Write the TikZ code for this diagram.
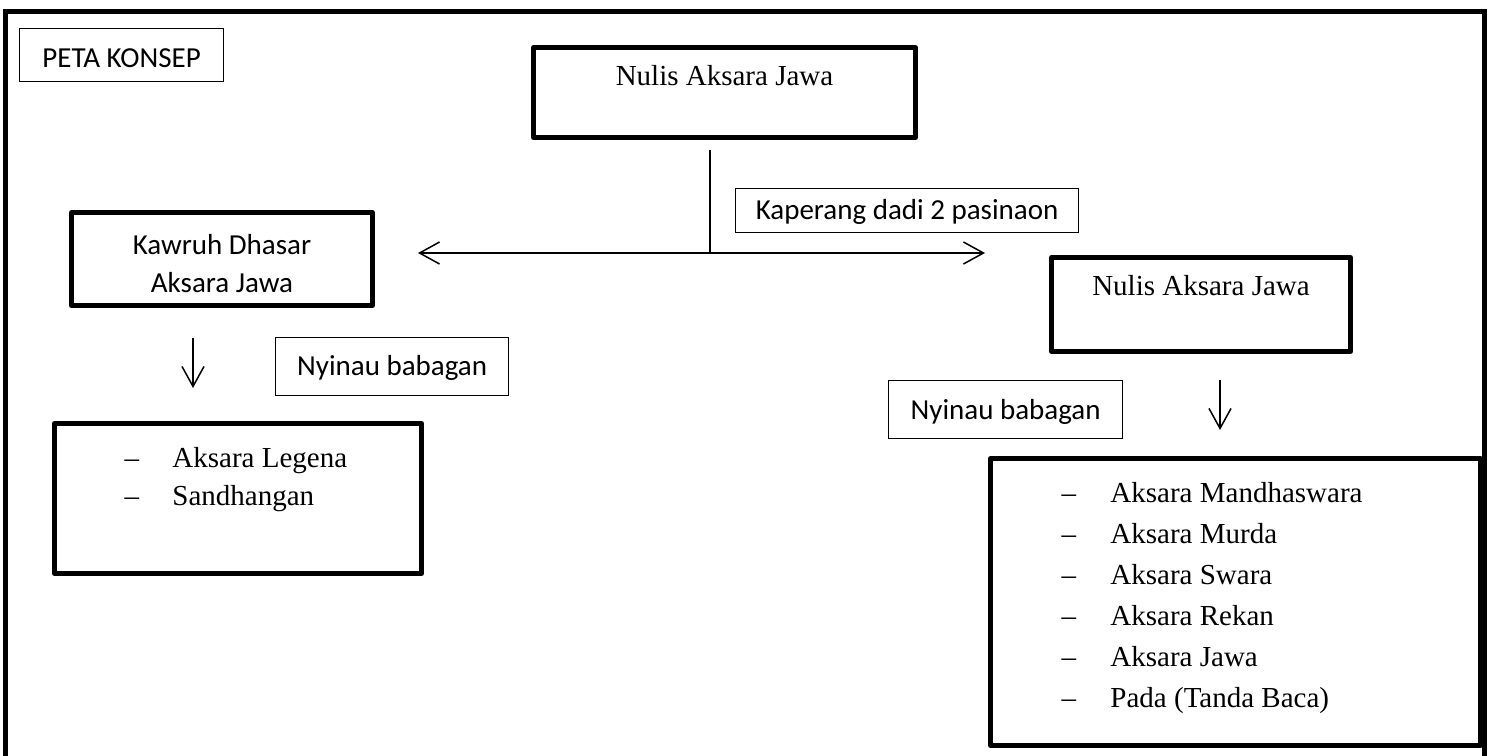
\documentclass[tikz,border=0pt]{standalone}
\usepackage{fontspec}
\setmainfont{Liberation Serif}
\newfontfamily\calibfont{Carlito}
\usetikzlibrary{arrows.meta}

\begin{document}
\begin{tikzpicture}[x=0.5pt,y=-0.5pt,
  thickbox/.style={draw,line width=2.5pt,line join=round,inner sep=0pt,anchor=north west,
    font=\fontsize{14.5}{19}\selectfont},
  thinbox/.style={draw,line width=0.6pt,inner sep=0pt,anchor=north west,
    font=\calibfont\fontsize{14.5}{19}\selectfont},
  link/.style={line width=0.75pt},
  arr/.style={link,-{Straight Barb[length=10pt,width=11pt]}}]
\useasboundingbox (0,0) rectangle (1493,755);
% frame
\draw[line width=2.5pt] (5,11) rectangle (1484,790);
\node[thinbox,minimum width=102pt,text height=19.5pt,text depth=7pt] (peta) at(19,28) {PETA KONSEP};
% top
\node[thickbox,minimum width=191pt,text height=19pt,text depth=26pt] (nulis) at(531,45) {Nulis Aksara Jawa};
\node[thinbox,minimum width=171.5pt,text height=15.5pt,text depth=6.5pt] (kaperang) at(735,188) {Kaperang dadi 2 pasinaon};
\coordinate (hub) at(710,253);
\coordinate (ltip) at(418,253);
\coordinate (rtip) at(985,253);
\draw[link,shorten <=5pt] (nulis.south -| hub) -- (hub);
\draw[arr] (hub) -- (ltip);
\draw[arr] (hub) -- (rtip);
% left
\node[thickbox,font=\calibfont\fontsize{14.5}{19}\selectfont,minimum width=150.5pt,
  text height=21pt,text depth=25.5pt] (kawruh) at(69,210)
  {\begin{tabular}[t]{@{}c@{}}Kawruh Dhasar\\Aksara Jawa\end{tabular}};
\coordinate (ltop) at(193,338);
\coordinate (lbot) at(193,388);
\draw[arr] (ltop) -- (lbot);
\node[thinbox,minimum width=116.5pt,text height=19pt,text depth=10pt] (nyinaul) at(275,337) {Nyinau babagan};
\node[thickbox,text height=22pt,text depth=53pt] (legena) at(52,421)
  {\makebox[183.5pt][l]{\begin{tabular}[t]{@{\hspace{35pt}}p{24pt}@{}l@{}}
   --&Aksara Legena\\--&Sandhangan\end{tabular}}};
% right
\node[thickbox,minimum width=149.5pt,text height=19pt,text depth=28pt] (nulisr) at(1049,255) {Nulis Aksara Jawa};
\coordinate (rtop) at(1220,380);
\coordinate (rbot) at(1220,430);
\draw[arr] (rtop) -- (rbot);
\node[thinbox,minimum width=117pt,text height=19.5pt,text depth=9.5pt] (nyinaur) at(888,380) {Nyinau babagan};
\node[thickbox,font=\fontsize{14.5}{20.5}\selectfont,text height=22pt,text depth=121.5pt] (murda) at(988,456)
  {\makebox[245pt][l]{\begin{tabular}[t]{@{\hspace{35.5pt}}p{24.5pt}@{}l@{}}
   --&Aksara Mandhaswara\\--&Aksara Murda\\--&Aksara Swara\\
   --&Aksara Rekan\\--&Aksara Jawa\\--&Pada (Tanda Baca)\end{tabular}}};
\end{tikzpicture}
\end{document}
